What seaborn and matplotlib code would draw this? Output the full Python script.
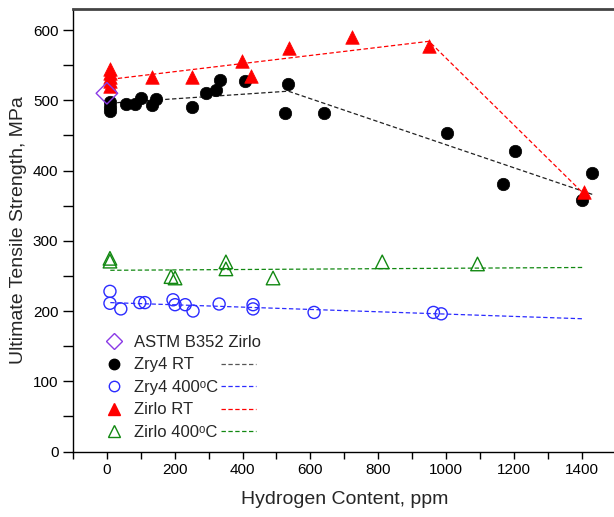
import matplotlib
matplotlib.use("Agg")
import matplotlib.pyplot as plt
import seaborn as sns
import pandas as pd
from matplotlib.lines import Line2D

# data
astm_x = [0]
astm_y = [510]

zry4_rt_x = [9, 9, 9, 56, 83, 100, 133, 145, 251, 292, 321, 334, 408, 526, 535, 641, 1004, 1167, 1205, 1400, 1430]
zry4_rt_y = [498, 490, 485, 495, 495, 504, 494, 502, 491, 510, 514, 529, 527, 482, 523, 482, 454, 381, 428, 358, 397]

zry4_400_x = [9, 9, 41, 97, 112, 195, 201, 231, 254, 331, 431, 431, 611, 963, 986]
zry4_400_y = [228, 211, 203, 212, 212, 216, 209, 209, 200, 210, 209, 203, 198, 198, 196]

zirlo_rt_x = [9, 9, 9, 9, 9, 133, 250, 399, 425, 538, 724, 951, 1406]
zirlo_rt_y = [545, 539, 533, 527, 521, 533, 533, 556, 535, 574, 590, 577, 370]

zirlo_400_x = [9, 9, 189, 201, 351, 351, 490, 812, 1093]
zirlo_400_y = [275, 271, 249, 247, 270, 260, 247, 270, 267]

# trend lines
zry4_rt_fit_x = [10, 535, 1432]
zry4_rt_fit_y = [496, 513, 366]
zry4_400_fit_x = [10, 1402]
zry4_400_fit_y = [212, 189]
zirlo_rt_fit_x = [12, 950, 1404]
zirlo_rt_fit_y = [530, 584, 368]
zirlo_400_fit_x = [10, 1404]
zirlo_400_fit_y = [258, 262]

legend_labels = ["ASTM B352 Zirlo", "Zry4 RT", "Zry4 400ᵒC", "Zirlo RT", "Zirlo 400ᵒC"]

sns.set_style("ticks")
plt.rcParams["font.family"] = ["Liberation Sans", "DejaVu Sans"]

c_blue = "#2b2bff"
c_red = "#ff0000"
c_green = "#118811"
c_purple = "#8a3ae6"
dash = (0, (3.5, 2))

fig = plt.figure(figsize=(6.14, 5.17), dpi=100)
ax = fig.add_axes([73 / 614, 65.5 / 517, 542.5 / 614, 442.5 / 517])

# trend lines
fits = [
    (zry4_rt_fit_x, zry4_rt_fit_y, "#222222"),
    (zry4_400_fit_x, zry4_400_fit_y, c_blue),
    (zirlo_rt_fit_x, zirlo_rt_fit_y, c_red),
    (zirlo_400_fit_x, zirlo_400_fit_y, c_green),
]
for fx, fy, col in fits:
    sns.lineplot(x=fx, y=fy, ax=ax, color=col, linestyle=dash, linewidth=0.9,
                 estimator=None, sort=False, legend=False)

# points
sns.scatterplot(x=zirlo_400_x, y=zirlo_400_y, ax=ax, marker="^", s=95,
                facecolor="none", edgecolor=c_green, linewidth=1.0, zorder=3)
sns.scatterplot(x=zry4_400_x, y=zry4_400_y, ax=ax, marker="o", s=75,
                facecolor="none", edgecolor=c_blue, linewidth=1.0, zorder=3)
sns.scatterplot(x=zry4_rt_x, y=zry4_rt_y, ax=ax, marker="o", s=80,
                color="black", edgecolor="black", linewidth=0.5, zorder=3)
sns.scatterplot(x=zirlo_rt_x, y=zirlo_rt_y, ax=ax, marker="^", s=95,
                color=c_red, edgecolor=c_red, linewidth=0.5, zorder=4)
sns.scatterplot(x=astm_x, y=astm_y, ax=ax, marker="D", s=120,
                facecolor="none", edgecolor=c_purple, linewidth=1.0, zorder=5)

ax.set_xlim(-100, 1500)
ax.set_ylim(0, 630)
ax.set_xticks(range(0, 1401, 200))
ax.set_xticks(range(-100, 1500, 100), minor=True)
ax.set_yticks(range(0, 601, 100))
ax.set_yticks(range(0, 630, 50), minor=True)
ax.tick_params(which="both", direction="out", length=5, width=1, labelsize=11,
               color="black", labelcolor="black")
ax.tick_params(axis="y", which="both", length=7)

for side in ["left", "bottom"]:
    ax.spines[side].set_color("black")
    ax.spines[side].set_linewidth(1.0)
ax.spines["top"].set_visible(True)
ax.spines["top"].set_color("#444444")
ax.spines["top"].set_linewidth(2.0)
ax.spines["right"].set_visible(False)

ax.set_xlabel("Hydrogen Content, ppm", fontsize=14, labelpad=10)
ax.set_ylabel("Ultimate Tensile Strength, MPa", fontsize=14, labelpad=4)

# legend: marker, text, then line
mk = [
    Line2D([], [], marker="D", ls="none", ms=8, mfc="none", mec=c_purple, mew=1.0),
    Line2D([], [], marker="o", ls="none", ms=7.5, color="black"),
    Line2D([], [], marker="o", ls="none", ms=7.5, mfc="none", mec=c_blue, mew=1.0),
    Line2D([], [], marker="^", ls="none", ms=8.5, color=c_red),
    Line2D([], [], marker="^", ls="none", ms=8.5, mfc="none", mec=c_green, mew=1.0),
]
ln = [
    Line2D([], [], ls="none"),
    Line2D([], [], ls=dash, lw=0.9, color="#555555"),
    Line2D([], [], ls=dash, lw=0.9, color=c_blue),
    Line2D([], [], ls=dash, lw=0.9, color=c_red),
    Line2D([], [], ls=dash, lw=0.9, color=c_green),
]
top_y = (451.5 - 335) / 442.5
leg_kw = dict(frameon=False, fontsize=12, labelspacing=0.45, handletextpad=0.4,
              borderpad=0, borderaxespad=0, loc="upper left")
leg1 = ax.legend(mk, legend_labels, bbox_to_anchor=((101 - 73) / 542.5, top_y),
                 handlelength=1.6, **leg_kw)
ax.add_artist(leg1)
ax.legend(ln, [" "] * 5, bbox_to_anchor=((221 - 73) / 542.5, top_y),
          handlelength=2.1, **leg_kw)

fig.savefig("out.png", dpi=100)
